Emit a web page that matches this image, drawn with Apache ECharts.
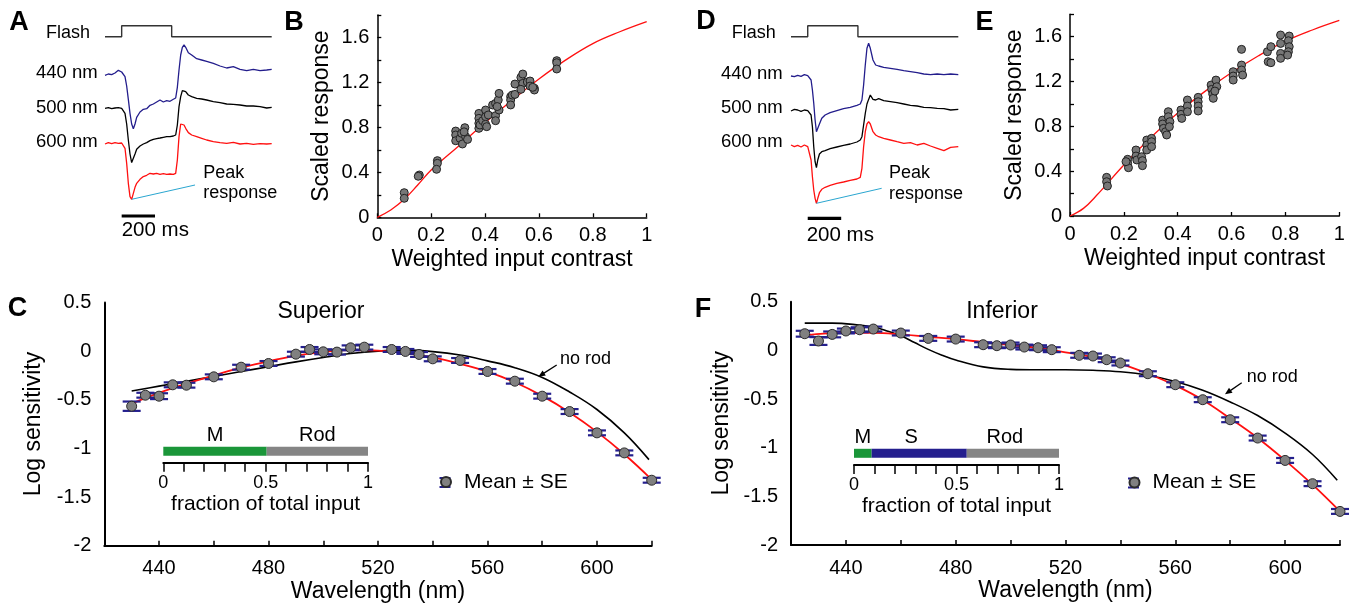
<!DOCTYPE html>
<html><head><meta charset="utf-8">
<script src="https://cdn.jsdelivr.net/npm/echarts@6/dist/echarts.min.js"></script>
<style>html,body{margin:0;padding:0;background:#fff}#c{width:1355px;height:606px}</style>
</head><body><div id="c"></div>
<script>
// ---------- Panel A traces (time in ms, response in a.u., baseline = 0) ----------
const aTime = [0,20,40,60,80,100,110,120,130,140,150,160,170,180,190,210,230,250,270,290,310,330,350,370,390,410,424,434,444,454,464,474,484,500,520,550,580,610,650,690,730,770,810,850,890,930,970,1000];
const a440 = [-1.3,0,-0.7,1,3.7,2,1.3,-2.7,-12,-25.3,-39.3,-50,-54.7,-50,-43.3,-38,-35.3,-34.7,-31.3,-30,-28,-26,-28,-26.7,-27.3,-25.3,-24,-13.3,4,19,26.7,29,26.7,21.3,19,15.3,14,12.7,10.7,8,6,7.3,4.7,3.3,4.7,3.3,4,4.7];
const a500 = [0,0.7,-0.3,0.3,0.7,0,-1,-5,-15.7,-31.7,-45.7,-54.3,-52.3,-45.7,-41,-37.7,-35.7,-34.3,-32.3,-31,-30.3,-29.7,-29,-28.3,-28.3,-27.7,-26.7,-16.7,1.7,11.7,17.7,19,16.7,13.3,11.7,10,9.3,8.3,6.7,5.7,4.3,4,3.3,2.3,2.3,1.7,0.3,1];
const a600 = [-0.7,0.7,-0.3,0.7,0,0.3,-0.7,-5,-20,-40,-53.3,-56,-50,-44,-40,-36,-33.3,-32,-30,-30.7,-30,-31,-30.3,-31,-30.7,-31,-30,-16.7,6.7,19.3,21,18.3,15,10.7,8.3,6.7,5,3.3,1.7,0.7,0,1,-0.7,0,-1,-0.3,-0.7,-0.3];
// ---------- Panel D traces ----------
const dTime = [0,20,40,60,80,100,110,120,128,136,144,152,160,170,184,204,234,274,314,354,394,414,424,434,444,454,464,474,490,506,524,554,594,634,674,714,754,794,834,874,914,954,1000];
const d440 = [0,-0.7,0.7,-0.3,1.3,0.3,-0.7,-4,-14,-27.3,-44,-55.7,-54.7,-48,-42.3,-39,-36.7,-34.7,-32.7,-31.3,-29.3,-28,-24,-9,11,27.7,32.7,27.7,16,11,10,8.7,7.7,6.7,5.3,4.3,3.3,2,1.3,2,1.3,2,1.3];
const d500 = [-0.3,1.3,0.7,-0.7,0.7,0,-1.3,-4.3,-16,-36,-51,-57,-49.3,-43.3,-41,-40,-38,-36.3,-34.7,-33.3,-31.3,-29.3,-26,-14.3,-2.7,6.7,11.3,15.7,11.3,10.7,12,10,9,8,6.7,5.3,4.7,3.3,3,2.3,2,0.7,1.3];
const d600 = [1,-0.7,0.7,-1,1,-0.7,-2.3,-14,-30.7,-44,-52.3,-57.3,-52.3,-46.7,-43.3,-41.3,-39.3,-37.3,-36,-34.3,-33,-31.3,-22.3,-0.7,14.3,22,24.3,22,14.3,11,9.3,7.7,6,4.3,2.7,3.3,1,2.7,0,-2.3,-4.7,-1.3,-0.7];
const flashTime = [0,100,100,400,400,1000];
const flashOn = [0,0,1,1,0,0];
const scaleBarMs = [100,300];
// ---------- Panel B scatter ----------
const bX = [0.100,0.100,0.156,0.152,0.223,0.223,0.220,0.291,0.291,0.291,0.307,0.313,0.316,0.325,0.328,0.335,0.322,0.377,0.377,0.377,0.377,0.381,0.391,0.402,0.402,0.402,0.406,0.412,0.428,0.439,0.439,0.439,0.449,0.452,0.452,0.445,0.495,0.495,0.495,0.501,0.511,0.511,0.533,0.540,0.540,0.533,0.557,0.567,0.567,0.583,0.583,0.577,0.666,0.666,0.666];
const bY = [0.219,0.169,0.376,0.365,0.504,0.480,0.427,0.767,0.732,0.681,0.702,0.747,0.652,0.797,0.717,0.693,0.760,0.924,0.880,0.836,0.791,0.821,0.859,0.954,0.895,0.827,0.806,0.910,0.999,1.013,0.904,0.859,1.043,1.102,0.954,0.985,1.073,1.043,0.999,1.087,1.093,1.185,1.244,1.274,1.191,1.138,1.203,1.212,1.167,1.147,1.132,1.156,1.393,1.375,1.319];
const bFitX = [0,0.05,0.1,0.15,0.2,0.3,0.4,0.5,0.6,0.7,0.8,0.9,1.0];
const bFitY = [0,0.065,0.16,0.287,0.42,0.63,0.84,1.04,1.23,1.40,1.545,1.65,1.74];
// ---------- Panel E scatter ----------
const eX = [0.136,0.136,0.139,0.214,0.214,0.217,0.208,0.245,0.245,0.248,0.266,0.269,0.269,0.285,0.285,0.285,0.303,0.303,0.303,0.344,0.344,0.347,0.355,0.359,0.365,0.365,0.371,0.369,0.412,0.412,0.415,0.436,0.436,0.436,0.476,0.476,0.476,0.476,0.524,0.526,0.530,0.532,0.542,0.545,0.538,0.606,0.606,0.606,0.637,0.637,0.637,0.641,0.733,0.736,0.746,0.746,0.782,0.782,0.782,0.782,0.814,0.811,0.814,0.811,0.808];
const eY = [0.345,0.306,0.268,0.506,0.470,0.431,0.485,0.589,0.535,0.500,0.529,0.494,0.449,0.678,0.633,0.589,0.693,0.663,0.619,0.856,0.821,0.782,0.752,0.723,0.931,0.886,0.842,0.797,0.946,0.907,0.871,1.035,0.981,0.931,1.059,1.020,0.981,0.937,1.169,1.130,1.088,1.050,1.213,1.154,1.115,1.288,1.249,1.213,1.487,1.347,1.303,1.258,1.466,1.377,1.368,1.511,1.615,1.540,1.451,1.407,1.606,1.564,1.511,1.466,1.436];
const eFitX = [0,0.05,0.1,0.2,0.3,0.4,0.5,0.6,0.7,0.8,0.9,1.0];
const eFitY = [0,0.068,0.187,0.455,0.70,0.92,1.11,1.28,1.43,1.56,1.66,1.745];
// ---------- Panel C (Superior) ----------
const cWl = [430,435,440,445,450,460,470,480,490,495,500,505,510,515,525,530,535,540,550,560,570,580,590,600,610,620];
const cMean = [-0.566,-0.453,-0.463,-0.346,-0.35,-0.264,-0.165,-0.127,-0.031,0.017,-0.007,-0.01,0.034,0.041,0.017,-0.003,-0.034,-0.079,-0.096,-0.209,-0.309,-0.463,-0.621,-0.84,-1.046,-1.327];
const cSE = [0.048,0.025,0.03,0.025,0.025,0.025,0.025,0.025,0.025,0.025,0.025,0.025,0.025,0.025,0.025,0.025,0.025,0.025,0.025,0.025,0.025,0.025,0.025,0.025,0.025,0.025];
const cFitWl = [430,440,450,460,470,480,490,500,510,520,530,540,550,560,570,580,590,600,610,620];
const cFit = [-0.54,-0.43,-0.335,-0.25,-0.17,-0.105,-0.045,-0.01,0.01,0.005,-0.02,-0.065,-0.13,-0.21,-0.32,-0.46,-0.63,-0.83,-1.06,-1.32];
const cNoRodWl = [430,440,450,460,470,480,490,500,510,520,530,540,550,560,570,580,590,600,610,619];
const cNoRod = [-0.41,-0.36,-0.31,-0.26,-0.21,-0.16,-0.11,-0.065,-0.025,0.0,0.01,-0.005,-0.04,-0.1,-0.17,-0.27,-0.42,-0.6,-0.84,-1.115];
const cInputNames = ['M','Rod'];
const cInputFrac = [0.505,0.495];
// ---------- Panel F (Inferior) ----------
const fWl = [425,430,435,440,445,450,460,470,480,490,495,500,505,510,515,525,530,535,540,550,560,570,580,590,600,610,620];
const fMean = [0.171,0.096,0.164,0.199,0.212,0.219,0.178,0.123,0.116,0.058,0.048,0.055,0.034,0.027,0.007,-0.051,-0.058,-0.096,-0.13,-0.24,-0.353,-0.507,-0.713,-0.901,-1.131,-1.37,-1.655];
const fSE = [0.03,0.04,0.03,0.025,0.025,0.025,0.025,0.025,0.025,0.025,0.025,0.025,0.025,0.025,0.025,0.025,0.025,0.025,0.025,0.025,0.025,0.025,0.025,0.025,0.025,0.025,0.025];
const fFitWl = [425,440,450,460,470,480,490,500,510,520,530,540,550,560,570,580,590,600,610,620];
const fFit = [0.155,0.18,0.18,0.165,0.14,0.115,0.085,0.055,0.025,-0.02,-0.07,-0.14,-0.24,-0.36,-0.51,-0.70,-0.90,-1.13,-1.38,-1.655];
const fNoRodWl = [425,435,445,450,455,460,465,470,475,480,490,500,510,520,530,540,550,560,570,580,590,600,610,619];
const fNoRod = [0.28,0.28,0.26,0.24,0.2,0.15,0.08,0.01,-0.05,-0.1,-0.17,-0.195,-0.2,-0.2,-0.205,-0.22,-0.255,-0.32,-0.41,-0.53,-0.67,-0.85,-1.07,-1.335];
const fInputNames = ['M','S','Rod'];
const fInputFrac = [0.086,0.464,0.45];
const traceLabels = ['440 nm','500 nm','600 nm'];

// ---------- styling / layout ----------
const FONT = "'Liberation Sans', Arial, Helvetica, sans-serif";
const BLUE = '#231d8c', RED = '#ff1010', CYAN = '#2aa6d0', NAVY = '#241f8e';
const GREEN = '#1a9639', GREY = '#858585';
// vertical offsets of the stacked traces inside their panels (layout only)
const OFF_A = {flash:183.3, amp:11, t440:146, t500:111.7, t600:76.7, bar:4};
const OFF_D = {flash:183.3, amp:11, t440:144, t500:109.3, t600:74, bar:1.7};

const pairs = (xs, ys, off) => xs.map((x, i) => [x, ys[i] + (off || 0)]);
const minIdx = arr => arr.reduce((b, v, i) => v < arr[b] ? i : b, 0);

function traceSeries(gi, time, t4, t5, t6, off, peakEnd) {
  const line = (data, color, w) => ({type:'line', xAxisIndex:gi, yAxisIndex:gi, data, showSymbol:false, symbol:'none',
    lineStyle:{color, width:w}, clip:false, silent:true, animation:false});
  const mi = minIdx(t6);
  return [
    line(flashTime.map((t,i)=>[t, off.flash + flashOn[i]*off.amp]), '#333', 1.4),
    line(pairs(time, t4, off.t440), BLUE, 1.3),
    line(pairs(time, t5, off.t500), '#000', 1.3),
    line(pairs(time, t6, off.t600), RED, 1.3),
    line(scaleBarMs.map(t=>[t, off.bar]), '#000', 3.2),
    line([[time[mi], t6[mi] + off.t600], peakEnd], CYAN, 1)
  ];
}

function errRender(params, api) {
  const x = api.value(0), m = api.value(1), se = api.value(2);
  const hi = api.coord([x, m + se]), lo = api.coord([x, m - se]);
  const w = 9, st = {stroke: NAVY, lineWidth: 2.2};
  return {type:'group', children:[
    {type:'line', shape:{x1:hi[0], y1:hi[1], x2:lo[0], y2:lo[1]}, style:st},
    {type:'line', shape:{x1:hi[0]-w, y1:hi[1], x2:hi[0]+w, y2:hi[1]}, style:st},
    {type:'line', shape:{x1:lo[0]-w, y1:lo[1], x2:lo[0]+w, y2:lo[1]}, style:st}
  ]};
}

const tickTxt = {color:'#000', fontFamily:FONT, fontSize:20};
function scatterAxes(gi) {
  return {
    x: {type:'value', gridIndex:gi, min:0, max:1, interval:0.2,
      axisLine:{show:true, onZero:false, lineStyle:{color:'#000', width:1.5}}, axisTick:{show:true, inside:true, length:4, lineStyle:{color:'#000', width:1.3}},
      axisLabel:Object.assign({margin:8}, tickTxt), splitLine:{show:false},
      name:'Weighted input contrast', nameLocation:'middle', nameGap:31,
      nameTextStyle:{color:'#000', fontFamily:FONT, fontSize:23}},
    y: {type:'value', gridIndex:gi, min:0, max:1.8, interval:0.2,
      axisLine:{show:true, onZero:false, lineStyle:{color:'#000', width:1.5}}, axisTick:{show:true, inside:true, length:4, lineStyle:{color:'#000', width:1.3}},
      axisLabel:Object.assign({margin:8, formatter: v => (Math.round(v*5) % 2 === 0 ? String(+v.toFixed(1)) : '')}, tickTxt),
      splitLine:{show:false},
      name:'Scaled response', nameLocation:'middle', nameGap:44, nameRotate:90,
      nameTextStyle:{color:'#000', fontFamily:FONT, fontSize:23}}
  };
}
function specAxes(gi, nameGapY) {
  return {
    x: {type:'value', gridIndex:gi, min:420, max:620, interval:20,
      axisLine:{show:true, onZero:false, lineStyle:{color:'#000', width:2}}, axisTick:{show:true, inside:true, length:5, lineStyle:{color:'#000', width:1.5}},
      axisLabel:Object.assign({margin:13, formatter: v => (v % 40 === 0 ? String(v) : '')}, tickTxt), splitLine:{show:false},
      name:'Wavelength (nm)', nameLocation:'middle', nameGap:34,
      nameTextStyle:{color:'#000', fontFamily:FONT, fontSize:23}},
    y: {type:'value', gridIndex:gi, min:-2, max:0.5, interval:0.5,
      axisLine:{show:true, onZero:false, lineStyle:{color:'#000', width:2}}, axisTick:{show:false},
      axisLabel:Object.assign({margin:13}, tickTxt), splitLine:{show:false},
      name:'Log sensitivity', nameLocation:'middle', nameGap:nameGapY, nameRotate:90,
      nameTextStyle:{color:'#000', fontFamily:FONT, fontSize:23}}
  };
}
function insetAxes(gi) {
  return {
    x: {type:'value', gridIndex:gi, min:0, max:1, interval:0.1, position:'bottom',
      axisLine:{show:true, onZero:false, lineStyle:{color:'#000', width:2}}, axisTick:{show:true, inside:false, length:9, lineStyle:{color:'#000', width:1.5}},
      axisLabel:{show:true, margin:11, color:'#000', fontFamily:FONT, fontSize:18,
        formatter: v => (Math.round(v*10) % 5 === 0 ? String(+v.toFixed(1)) : '')},
      splitLine:{show:false},
      name:'fraction of total input', nameLocation:'middle', nameGap:31,
      nameTextStyle:{color:'#000', fontFamily:FONT, fontSize:21}},
    y: {type:'category', gridIndex:gi, data:['input'], axisLine:{show:false}, axisTick:{show:false}, axisLabel:{show:false}, splitLine:{show:false}}
  };
}
function specSeries(gi, wl, mean, se, fitWl, fit, nrWl, nr) {
  return [
    {type:'line', xAxisIndex:gi, yAxisIndex:gi, data:pairs(nrWl, nr), smooth:0.4, showSymbol:false, symbol:'none',
      lineStyle:{color:'#000', width:1.6}, silent:true, z:2},
    {type:'line', xAxisIndex:gi, yAxisIndex:gi, data:pairs(fitWl, fit), smooth:0.4, showSymbol:false, symbol:'none',
      lineStyle:{color:RED, width:1.8}, silent:true, z:3},
    {type:'custom', xAxisIndex:gi, yAxisIndex:gi, renderItem:errRender, encode:{x:0, y:1},
      data:wl.map((w,i)=>[w, mean[i], se[i]]), z:4, silent:true},
    {type:'scatter', name:'Mean ± SE', xAxisIndex:gi, yAxisIndex:gi, data:pairs(wl, mean), symbolSize:10,
      itemStyle:{color:'#808080', borderColor:'#2b2b2b', borderWidth:1, opacity:1}, z:5}
  ];
}
function insetSeries(gi, names, fracs, colors, offsets) {
  return names.map((n, i) => ({type:'bar', name:n, xAxisIndex:gi, yAxisIndex:gi, stack:'in'+gi, barWidth:9,
    data:[fracs[i]], itemStyle:{color:colors[i]}, silent:true,
    label:{show:true, position:'top', distance:1, formatter:'{a}', color:'#000', fontFamily:FONT, fontSize:20,
      offset:[offsets[i], 0]}}));
}

const axB = scatterAxes(2), axE = scatterAxes(3), axC = specAxes(4, 59), axF = specAxes(6, 58);
const axCi = insetAxes(5), axFi = insetAxes(7);
const hiddenX = gi => ({type:'value', gridIndex:gi, min:0, max:1000, show:false});
const hiddenY = gi => ({type:'value', gridIndex:gi, min:0, max:220, show:false});

const txt = (x, y, text, size, align, extra) => ({type:'text', x, y, silent:true,
  style:Object.assign({text, fill:'#000', fontFamily:FONT, fontSize:size, textAlign:align, align:align,
    textVerticalAlign:'middle', verticalAlign:'middle'}, extra || {})});
const bold = {fontWeight:'bold'};
const seg = (x1,y1,x2,y2,color,w) => ({type:'line', silent:true, shape:{x1,y1,x2,y2}, style:{stroke:color, lineWidth:w}});
const head = pts => ({type:'polygon', silent:true, shape:{points:pts}, style:{fill:'#000'}});

const graphic = [
  txt(19, 23, 'A', 27, 'center', bold), txt(294, 23, 'B', 27, 'center', bold),
  txt(706, 22, 'D', 27, 'center', bold), txt(984.5, 23, 'E', 27, 'center', bold),
  txt(17.5, 309, 'C', 27, 'center', bold), txt(703, 310, 'F', 27, 'center', bold),
  txt(46, 33.3, 'Flash', 18, 'left'), txt(731.7, 33.3, 'Flash', 18, 'left'),
  txt(97.7, 72.7, traceLabels[0], 18.5, 'right'), txt(97.7, 107.7, traceLabels[1], 18.5, 'right'), txt(97.7, 141.7, traceLabels[2], 18.5, 'right'),
  txt(782.7, 74, traceLabels[0], 18.5, 'right'), txt(782.7, 108.3, traceLabels[1], 18.5, 'right'), txt(782.7, 141.7, traceLabels[2], 18.5, 'right'),
  txt(203.3, 173.3, 'Peak', 18, 'left'), txt(203.3, 193.5, 'response', 18, 'left'),
  txt(889, 172.7, 'Peak', 18, 'left'), txt(889, 194, 'response', 18, 'left'),
  txt(121.7, 230, '200 ms', 20.5, 'left'), txt(806.7, 235, '200 ms', 20.5, 'left'),
  txt(321, 311.7, 'Superior', 23, 'center'), txt(1002, 311.7, 'Inferior', 23, 'center'),
  txt(560, 359, 'no rod', 18, 'left'), txt(1246.7, 376.7, 'no rod', 18, 'left'),
  seg(556.7, 365, 542, 374.4, '#000', 1.3), head([[538.3,376.7],[545.8,375.5],[542.6,370.4]]),
  seg(1241.7, 382.7, 1228.5, 391.9, '#000', 1.3), head([[1225,394.3],[1232.5,392.8],[1229.0,387.8]]),
  seg(439.5, 478, 450.5, 478, NAVY, 2), seg(439.5, 487, 450.5, 487, NAVY, 2),
  seg(1128, 478.5, 1139, 478.5, NAVY, 2), seg(1128, 487.5, 1139, 487.5, NAVY, 2)
];

const legendCommon = {data:['Mean ± SE'], icon:'circle', itemWidth:10, itemHeight:10, padding:0, selectedMode:false,
  textStyle:{color:'#000', fontFamily:FONT, fontSize:21, padding:[0,0,0,8]}};

const option = {
  backgroundColor:'#fff',
  animation:false,
  textStyle:{fontFamily:FONT},
  grid:[
    {left:105, top:0, width:166.7, height:220},
    {left:791, top:0, width:167.3, height:220},
    {left:377.3, top:14.9, width:269.4, height:202.4},
    {left:1070, top:14.3, width:269.3, height:201.7},
    {left:104.3, top:302.5, width:547.4, height:243.2},
    {left:163.3, top:439.7, width:204.7, height:23},
    {left:791, top:301.7, width:549, height:243.3},
    {left:854, top:441.6, width:205, height:23.4}
  ].map(g => Object.assign({containLabel:false, outerBoundsMode:'none'}, g)),
  xAxis:[hiddenX(0), hiddenX(1), axB.x, axE.x, axC.x, axCi.x, axF.x, axFi.x],
  yAxis:[hiddenY(0), hiddenY(1), axB.y, axE.y, axC.y, axCi.y, axF.y, axFi.y],
  legend:[Object.assign({left:440, top:471.5}, legendCommon), Object.assign({left:1128.5, top:472}, legendCommon)],
  graphic,
  series:[
    ...traceSeries(0, aTime, a440, a500, a600, OFF_A, [540, 35]),
    ...traceSeries(1, dTime, d440, d500, d600, OFF_D, [542, 31.7]),
    {type:'line', xAxisIndex:2, yAxisIndex:2, data:pairs(bFitX, bFitY), smooth:0.4, showSymbol:false, symbol:'none',
      lineStyle:{color:RED, width:1.3}, silent:true, z:2},
    {type:'scatter', xAxisIndex:2, yAxisIndex:2, data:pairs(bX, bY), symbolSize:8,
      itemStyle:{color:'#777', borderColor:'#222', borderWidth:1, opacity:1}, z:3},
    {type:'line', xAxisIndex:3, yAxisIndex:3, data:pairs(eFitX, eFitY), smooth:0.4, showSymbol:false, symbol:'none',
      lineStyle:{color:RED, width:1.3}, silent:true, z:2},
    {type:'scatter', xAxisIndex:3, yAxisIndex:3, data:pairs(eX, eY), symbolSize:8,
      itemStyle:{color:'#777', borderColor:'#222', borderWidth:1, opacity:1}, z:3},
    ...specSeries(4, cWl, cMean, cSE, cFitWl, cFit, cNoRodWl, cNoRod),
    ...specSeries(6, fWl, fMean, fSE, fFitWl, fFit, fNoRodWl, fNoRod),
    ...insetSeries(5, cInputNames, cInputFrac, [GREEN, GREY], [0, 0]),
    ...insetSeries(7, fInputNames, fInputFrac, [GREEN, NAVY, GREY], [0, -8, -8])
  ]
};
const chart = echarts.init(document.getElementById('c'), null, {renderer:'canvas'});
chart.setOption(option);
</script></body></html>
